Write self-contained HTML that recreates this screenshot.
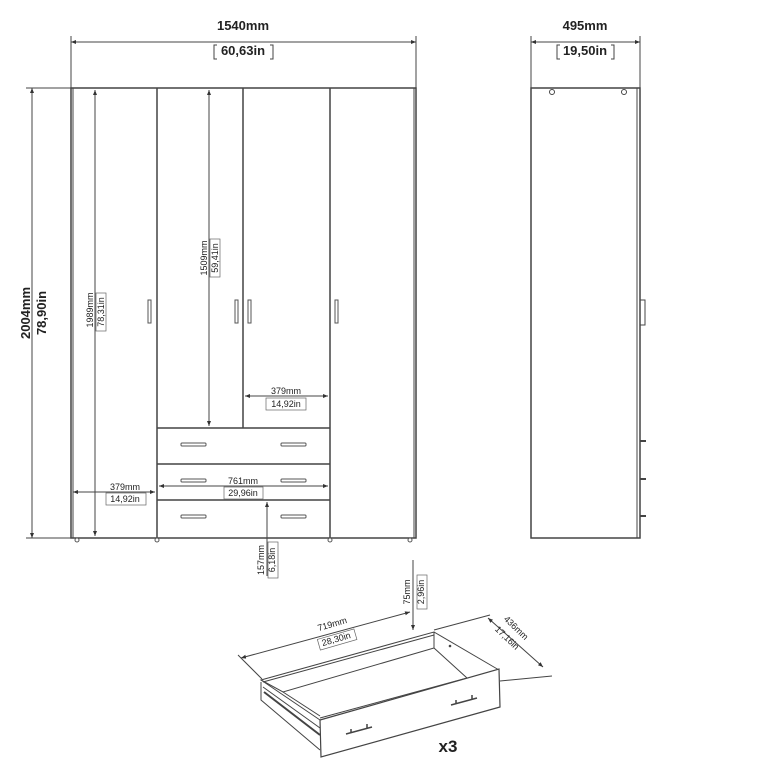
<!DOCTYPE html>
<html><head><style>
html,body{margin:0;padding:0;background:#fff;}
svg{display:block;}
text{font-family:"Liberation Sans",Arial,sans-serif;fill:#222;}
</style></head><body>
<svg width="770" height="770" viewBox="0 0 770 770" xmlns="http://www.w3.org/2000/svg">
<defs>
<marker id="a" viewBox="0 0 10 10" refX="10" refY="5" markerWidth="5" markerHeight="5" orient="auto-start-reverse"><path d="M0,1 L10,5 L0,9 z" fill="#333"/></marker>
</defs>
<g stroke="#444" fill="none" stroke-width="1">
<line x1="71" y1="42" x2="416" y2="42" marker-start="url(#a)" marker-end="url(#a)"/>
<line x1="71" y1="36" x2="71" y2="88"/><line x1="416" y1="36" x2="416" y2="88"/>
<line x1="32" y1="88" x2="32" y2="538" marker-start="url(#a)" marker-end="url(#a)"/>
<line x1="26" y1="88" x2="71" y2="88"/><line x1="26" y1="538" x2="71" y2="538"/>
<rect x="71" y="88" width="345" height="450" stroke-width="1.5"/>
<line x1="73" y1="88" x2="73" y2="538"/><line x1="414" y1="88" x2="414" y2="538"/>
<line x1="157" y1="88" x2="157" y2="538" stroke-width="1.5"/>
<line x1="243" y1="88" x2="243" y2="428" stroke-width="1.5"/>
<line x1="330" y1="88" x2="330" y2="538" stroke-width="1.5"/>
<line x1="157" y1="428" x2="330" y2="428" stroke-width="1.5"/>
<line x1="157" y1="464" x2="330" y2="464" stroke-width="1.5"/>
<line x1="157" y1="500" x2="330" y2="500" stroke-width="1.5"/>
<line x1="95" y1="90" x2="95" y2="536" marker-start="url(#a)" marker-end="url(#a)"/>
<line x1="209" y1="90" x2="209" y2="426" marker-start="url(#a)" marker-end="url(#a)"/>
<line x1="245" y1="396" x2="328" y2="396" marker-start="url(#a)" marker-end="url(#a)"/>
<line x1="73" y1="492" x2="155" y2="492" marker-start="url(#a)" marker-end="url(#a)"/>
<line x1="159" y1="486" x2="328" y2="486" marker-start="url(#a)" marker-end="url(#a)"/>
<line x1="267" y1="576" x2="267" y2="502" marker-end="url(#a)"/>
<line x1="262" y1="538" x2="290" y2="538"/>
</g>
<g fill="#fff" stroke="#555" stroke-width="1">
<rect x="148" y="300" width="3" height="23"/>
<rect x="235" y="300" width="3" height="23"/>
<rect x="248" y="300" width="3" height="23"/>
<rect x="335" y="300" width="3" height="23"/>
<rect x="181" y="443" width="25" height="3" rx="1"/><rect x="281" y="443" width="25" height="3" rx="1"/>
<rect x="181" y="479" width="25" height="3" rx="1"/><rect x="281" y="479" width="25" height="3" rx="1"/>
<rect x="181" y="515" width="25" height="3" rx="1"/><rect x="281" y="515" width="25" height="3" rx="1"/>
</g>
<g fill="#fff" stroke="#555"><circle cx="77" cy="540" r="2"/><circle cx="157" cy="540" r="2"/><circle cx="330" cy="540" r="2"/><circle cx="410" cy="540" r="2"/></g>
<text x="243" y="30" font-size="13" font-weight="bold" text-anchor="middle">1540mm</text>
<text x="243" y="55" font-size="13" font-weight="bold" text-anchor="middle">60,63in</text>
<path d="M217,45 h-3 v14 h3 M270,45 h3 v14 h-3" stroke="#444" fill="none"/>
<text transform="translate(30,313) rotate(-90)" font-size="13" font-weight="bold" text-anchor="middle">2004mm</text>
<text transform="translate(46,313) rotate(-90)" font-size="13" font-weight="bold" text-anchor="middle">78,90in</text>
<text transform="translate(93,310) rotate(-90)" font-size="9" text-anchor="middle">1989mm</text>
<text transform="translate(104,312) rotate(-90)" font-size="9" text-anchor="middle">78,31in</text>
<rect x="96" y="293" width="10" height="38" fill="none" stroke="#666" stroke-width="0.7"/>
<text transform="translate(207,258) rotate(-90)" font-size="9" text-anchor="middle">1509mm</text>
<text transform="translate(218,258) rotate(-90)" font-size="9" text-anchor="middle">59,41in</text>
<rect x="210" y="239" width="10" height="38" fill="none" stroke="#666" stroke-width="0.7"/>
<text x="286" y="394" font-size="9" text-anchor="middle">379mm</text>
<text x="286" y="407" font-size="9" text-anchor="middle">14,92in</text>
<rect x="266" y="398" width="40" height="12" fill="none" stroke="#666" stroke-width="0.7"/>
<text x="125" y="490" font-size="9" text-anchor="middle">379mm</text>
<text x="125" y="502" font-size="9" text-anchor="middle">14,92in</text>
<rect x="106" y="493" width="40" height="12" fill="none" stroke="#666" stroke-width="0.7"/>
<text x="243" y="484" font-size="9" text-anchor="middle">761mm</text>
<rect x="224" y="487" width="39" height="12" fill="#fff" stroke="#666" stroke-width="0.7"/>
<text x="243" y="496" font-size="9" text-anchor="middle">29,96in</text>
<text transform="translate(264,560) rotate(-90)" font-size="9" text-anchor="middle">157mm</text>
<text transform="translate(275,560) rotate(-90)" font-size="9" text-anchor="middle">6,18in</text>
<rect x="268" y="542" width="10" height="36" fill="none" stroke="#666" stroke-width="0.7"/>
<g stroke="#444" fill="none">
<line x1="531" y1="42" x2="640" y2="42" marker-start="url(#a)" marker-end="url(#a)"/>
<line x1="531" y1="36" x2="531" y2="88"/><line x1="640" y1="36" x2="640" y2="88"/>
<rect x="531" y="88" width="109" height="450" stroke-width="1.5"/>
<line x1="637" y1="88" x2="637" y2="538"/>
<circle cx="552" cy="92" r="2.5"/><circle cx="624" cy="92" r="2.5"/>
<path d="M640,300 h5 v25 h-5"/>
<path d="M640,441 h6 M640,479 h6 M640,516 h6" stroke-width="2"/>
</g>
<text x="585" y="30" font-size="13" font-weight="bold" text-anchor="middle">495mm</text>
<text x="585" y="55" font-size="13" font-weight="bold" text-anchor="middle">19,50in</text>
<path d="M560,45 h-3 v14 h3 M611,45 h3 v14 h-3" stroke="#444" fill="none"/>
<g stroke="#444" fill="none" stroke-width="1">
<line x1="241" y1="658" x2="410" y2="612" marker-start="url(#a)" marker-end="url(#a)"/>
<line x1="238" y1="655" x2="262" y2="679"/>
<line x1="413" y1="560" x2="413" y2="630" marker-end="url(#a)"/>
<line x1="434" y1="630" x2="490" y2="615"/>
<line x1="488" y1="618" x2="543" y2="667" marker-start="url(#a)" marker-end="url(#a)"/>
<line x1="500" y1="681" x2="552" y2="676"/>
<polygon points="261,680 434,632 434,648 283,692" fill="#fff"/>
<line x1="263" y1="682" x2="434" y2="635"/>
<polyline points="434,632 499,670"/>
<line x1="434" y1="648" x2="467" y2="678"/>
<circle cx="450" cy="646" r="0.8" fill="#444"/>
<polyline points="261,680 320,720"/>
<polyline points="261,682 261,700 320,750"/>
<line x1="263" y1="687" x2="320" y2="728"/>
<line x1="264" y1="692" x2="320" y2="735" stroke-width="2"/>
<line x1="283" y1="692" x2="320" y2="716"/>
<line x1="320" y1="718" x2="467" y2="678"/>
<polygon points="320,720 499,669 500,707 321,757" fill="#fff" stroke-width="1.2"/>
<path d="M346,734 l26,-7 M351,733 v-4 M367,728 v-4" stroke-width="1.5"/>
<path d="M451,705 l26,-7 M456,704 v-4 M472,699 v-4" stroke-width="1.5"/>
</g>
<text transform="translate(333,627) rotate(-16)" font-size="9" text-anchor="middle">719mm</text>
<rect x="318" y="634" width="38" height="11" fill="#fff" stroke="#666" stroke-width="0.7" transform="rotate(-16 337 639)"/>
<text transform="translate(337,642) rotate(-16)" font-size="9" text-anchor="middle">28,30in</text>
<text transform="translate(410,592) rotate(-90)" font-size="9" text-anchor="middle">75mm</text>
<text transform="translate(424,592) rotate(-90)" font-size="9" text-anchor="middle">2,96in</text>
<rect x="417" y="575" width="10" height="34" fill="none" stroke="#666" stroke-width="0.7"/>
<text transform="translate(514,630) rotate(44)" font-size="9" text-anchor="middle">436mm</text>
<text transform="translate(505,640) rotate(44)" font-size="9" text-anchor="middle">17,16in</text>
<text x="448" y="752" font-size="17" font-weight="bold" text-anchor="middle">x3</text>
</svg>
</body></html>
